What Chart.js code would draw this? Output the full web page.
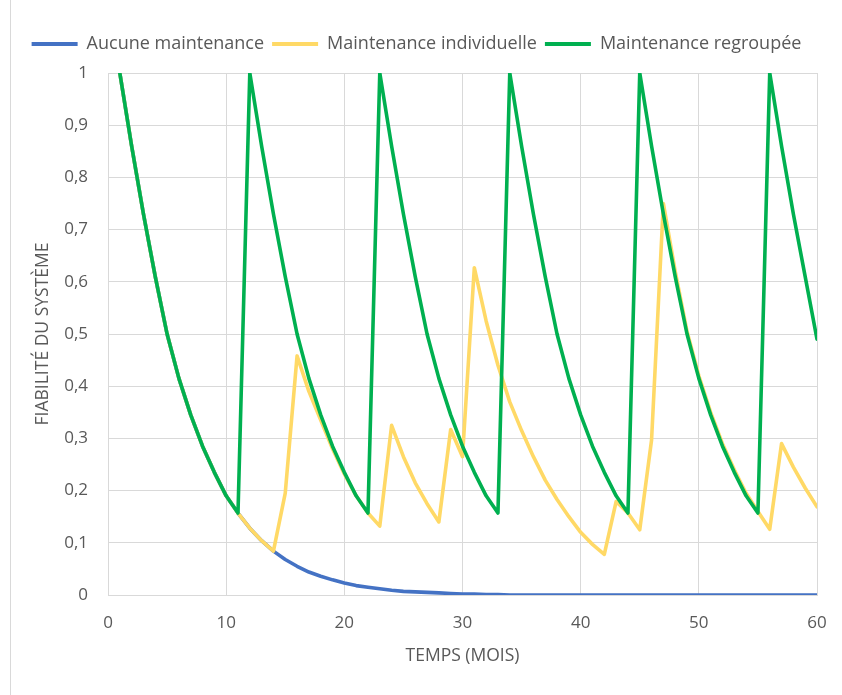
<!DOCTYPE html>
<html>
<head>
<meta charset="utf-8">
<script src="https://cdn.jsdelivr.net/npm/chart.js@4.4.1/dist/chart.umd.min.js"></script>
<style>
  html, body { margin: 0; padding: 0; background: #fff; }
  #wrap { position: relative; width: 842px; height: 695px; }
  #edge { position: absolute; left: 10px; top: 0; width: 0; height: 695px; border-left: 1px solid #d9d9d9; }
  canvas { position: absolute; left: 0; top: 0; }
</style>
</head>
<body>
<div id="wrap">
  <div id="edge"></div>
  <canvas id="chart" width="842" height="695"></canvas>
</div>
<script>
// mois (axe X)
const months = [1, 2, 3, 4, 5, 6, 7, 8, 9, 10, 11, 12, 13, 14, 15, 16, 17, 18, 19, 20,
  21, 22, 23, 24, 25, 26, 27, 28, 29, 30, 31, 32, 33, 34, 35, 36, 37, 38, 39, 40,
  41, 42, 43, 44, 45, 46, 47, 48, 49, 50, 51, 52, 53, 54, 55, 56, 57, 58, 59, 60, 61];

// fiabilité sans maintenance
const aucune = [1, 0.86, 0.73, 0.61, 0.5, 0.415, 0.345, 0.285, 0.235, 0.19,
  0.157, 0.128, 0.104, 0.084, 0.068, 0.055, 0.044, 0.036, 0.029, 0.023,
  0.018, 0.015, 0.012, 0.009, 0.007, 0.006, 0.005, 0.004, 0.003, 0.002,
  0.002, 0.001, 0.001, 0, 0, 0, 0, 0, 0, 0,
  0, 0, 0, 0, 0, 0, 0, 0, 0, 0,
  0, 0, 0, 0, 0, 0, 0, 0, 0, 0, 0];

// fiabilité avec maintenance individuelle
const individuelle = [1, 0.86, 0.73, 0.61, 0.5, 0.415, 0.345, 0.285, 0.235, 0.19,
  0.157, 0.128, 0.104, 0.084, 0.195, 0.458, 0.39, 0.335, 0.28, 0.232,
  0.19, 0.157, 0.132, 0.325, 0.265, 0.215, 0.175, 0.14, 0.317, 0.265,
  0.627, 0.525, 0.44, 0.37, 0.315, 0.265, 0.22, 0.183, 0.15, 0.12,
  0.097, 0.078, 0.179, 0.157, 0.125, 0.297, 0.75, 0.62, 0.505, 0.42,
  0.35, 0.29, 0.24, 0.195, 0.16, 0.126, 0.29, 0.245, 0.205, 0.169, 0.5];

// fiabilité avec maintenance regroupée
const regroupee = [1, 0.86, 0.73, 0.61, 0.5, 0.415, 0.345, 0.285, 0.235, 0.19,
  0.157, 1, 0.86, 0.73, 0.61, 0.5, 0.415, 0.345, 0.285, 0.235,
  0.19, 0.157, 1, 0.86, 0.73, 0.61, 0.5, 0.415, 0.345, 0.285,
  0.235, 0.19, 0.157, 1, 0.86, 0.73, 0.61, 0.5, 0.415, 0.345,
  0.285, 0.235, 0.19, 0.157, 1, 0.86, 0.73, 0.61, 0.5, 0.415,
  0.345, 0.285, 0.235, 0.19, 0.157, 1, 0.86, 0.73, 0.61, 0.49, 0.415];

const xTicks = [0, 10, 20, 30, 40, 50, 60];

const textColor = '#595959';
const gridColor = '#d9d9d9';
const fontFamily = '"Open Sans", "Noto Sans", sans-serif';

function serie(label, data, color) {
    return {
        label: label,
        data: data,
        borderColor: color,
        backgroundColor: color,
        borderWidth: 3.6,
        pointRadius: 0,
        borderJoinStyle: 'round',
        borderCapStyle: 'round',
        tension: 0
    };
}

// petit espace sous la légende
const legendGap = {
    id: 'legendGap',
    beforeInit(chart) {
        const fit = chart.legend.fit;
        chart.legend.fit = function () {
            fit.bind(chart.legend)();
            this.height += 10;
        };
    }
};

const ctx = document.getElementById('chart').getContext('2d');
new Chart(ctx, {
    type: 'line',
    data: {
        labels: months,
        // l'ordre inverse pour que la courbe verte soit dessinée au-dessus
        datasets: [
            serie('Maintenance regroupée', regroupee, '#00b050'),
            serie('Maintenance individuelle', individuelle, '#ffd966'),
            serie('Aucune maintenance', aucune, '#4472c4')
        ]
    },
    options: {
        responsive: false,
        animation: false,
        events: [],
        layout: { padding: { left: 16, right: 25, top: 27, bottom: 0 } },
        plugins: {
            tooltip: { enabled: false },
            legend: {
                position: 'top',
                labels: {
                    color: textColor,
                    font: { family: fontFamily, size: 18 },
                    boxWidth: 46,
                    boxHeight: 4,
                    padding: 8,
                    sort: (a, b) => b.datasetIndex - a.datasetIndex,
                    generateLabels: (chart) =>
                        Chart.defaults.plugins.legend.labels.generateLabels(chart)
                            .map(item => Object.assign(item, { lineWidth: 0 }))
                }
            }
        },
        scales: {
            x: {
                type: 'linear',
                min: 0,
                max: 60,
                afterBuildTicks: (scale) => { scale.ticks = xTicks.map(v => ({ value: v })); },
                afterFit: (scale) => { scale.height = 100; },
                // traits de graduation invisibles, juste pour décaler les libellés
                grid: { color: gridColor, drawTicks: true, tickLength: 14, tickColor: 'rgba(0,0,0,0)' },
                border: { color: gridColor },
                ticks: {
                    color: textColor,
                    font: { family: fontFamily, size: 17 },
                    padding: 4,
                    maxRotation: 0
                },
                title: {
                    display: true,
                    text: 'TEMPS (MOIS)',
                    color: textColor,
                    font: { family: fontFamily, size: 17.5 },
                    padding: { top: 0, bottom: 28 }
                }
            },
            y: {
                min: 0,
                max: 1,
                afterFit: (scale) => { scale.width = 92; },
                grid: { color: gridColor, drawTicks: false },
                border: { color: gridColor },
                ticks: {
                    stepSize: 0.1,
                    color: textColor,
                    font: { family: fontFamily, size: 17 },
                    padding: 20,
                    callback: (v) => String(Math.round(v * 10) / 10).replace('.', ',')
                },
                title: {
                    display: true,
                    text: 'FIABILITÉ DU SYSTÈME',
                    color: textColor,
                    font: { family: fontFamily, size: 17.5 },
                    padding: { top: 17, bottom: 0 }
                }
            }
        }
    },
    plugins: [legendGap]
});
</script>
</body>
</html>
